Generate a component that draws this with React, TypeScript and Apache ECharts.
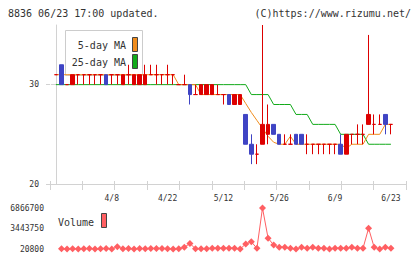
import React, { useEffect, useRef } from "react";
import * as echarts from "echarts";

// Trading days shown on the price chart (index 0 .. 60)
const DATES = [
  "3/25", "3/26", "3/27", "3/28", "3/31", "4/1", "4/2", "4/3", "4/4", "4/7",
  "4/8", "4/9", "4/10", "4/11", "4/14", "4/15", "4/16", "4/17", "4/18", "4/21",
  "4/22", "4/23", "4/24", "4/25", "4/28", "4/30", "5/1", "5/2", "5/7", "5/8",
  "5/12", "5/13", "5/14", "5/15", "5/16", "5/19", "5/20", "5/21", "5/22", "5/23",
  "5/26", "5/27", "5/28", "5/29", "5/30", "6/2", "6/3", "6/4", "6/5", "6/6",
  "6/9", "6/10", "6/11", "6/12", "6/13", "6/16", "6/17", "6/18", "6/19", "6/20",
  "6/23",
];

const OPEN = [
  31, 32, 30, 30, 31, 31, 31, 31, 31, 31,
  31, 31, 30, 31, 30, 30, 30, 31, 31, 31,
  31, 31, 30, 30, 30, 29, 29, 29, 29, 29,
  29, 29, 28, 28, 27, 24, 23, 24, 25, 26,
  25, 24, 24, 25, 25, 24, 24, 24, 24, 24,
  24, 24, 23, 25, 25, 25, 26, 26, 26, 27,
  26,
];
const CLOSE = [
  31, 30, 30, 31, 31, 31, 31, 31, 31, 30,
  31, 31, 31, 31, 31, 31, 31, 31, 31, 31,
  31, 31, 30, 30, 29, 29, 30, 30, 30, 29,
  29, 28, 29, 29, 24, 23, 23, 26, 26, 25,
  24, 24, 24, 24, 24, 24, 24, 24, 24, 24,
  24, 23, 25, 25, 25, 25, 27, 26, 26, 26,
  26,
];
const LOW = [
  31, 30, 30, 30, 30, 30, 30, 30, 30, 30,
  30, 30, 30, 30, 30, 30, 30, 31, 30, 30,
  30, 30, 30, 30, 28, 29, 29, 29, 29, 29,
  28, 28, 28, 28, 24, 22, 22, 24, 24, 25,
  24, 24, 24, 24, 24, 23, 23, 23, 23, 23,
  23, 23, 23, 24, 24, 24, 26, 25, 26, 25,
  25,
];
const HIGH = [
  31, 32, 30, 31, 31, 31, 31, 31, 31, 31,
  31, 31, 31, 32, 31, 31, 32, 32, 32, 31,
  32, 31, 30, 31, 30, 30, 30, 30, 30, 30,
  29, 29, 29, 29, 27, 25, 24, 36, 28, 26,
  25, 25, 25, 25, 25, 25, 24, 24, 24, 24,
  24, 25, 25, 25, 26, 26, 35, 27, 27, 27,
  26,
];

const MA5 = [
  31, 31, 31, 31, 31, 31, 31, 31, 31, 31,
  31, 31, 31, 31, 31, 31, 31, 31, 31, 31,
  31, 31, 30, 30, 30, 30, 29, 29, 29, 29,
  29, 29, 29, 29, 28.1, 27.2, 26.4, 25.6, 24.8, 24.2,
  24, 24, 24.8, 24, 24, 24, 24, 24, 24, 24,
  24, 24, 23.6, 24, 24, 24, 25, 25, 25, 26,
  26,
];
const MA25 = [
  30, 30, 30, 30, 30, 30, 30, 30, 30, 30,
  30, 30, 30, 30, 30, 30, 30, 30, 30, 30,
  30, 30, 30, 30, 30, 30, 30, 30, 30, 30,
  30, 30, 30, 30, 30, 29, 29, 29, 29, 28,
  28, 28, 28, 27, 27, 27, 26, 26, 26, 26,
  26, 25, 25, 25, 25, 25, 24, 24, 24, 24,
  24,
];

// Daily volume (no figure for the first day)
const VOLUME = [
  null, 60000, 30000, 60000, 30000, 60000, 120000, 30000, 60000, 120000,
  30000, 400000, 60000, 120000, 30000, 120000, 60000, 120000, 120000, 120000,
  60000, 30000, 60000, 300000, 940000, 60000, 60000, 60000, 137000, 137000,
  137000, 137000, 137000, 30000, 856000, 1220000, 137000, 6866700, 1830000, 690000,
  300000, 300000, 137000, 20800, 300000, 137000, 300000, 137000, 137000, 30000,
  137000, 137000, 137000, 300000, 137000, 137000, 3480000, 300000, 30000, 300000,
  137000,
];

const PRICE_TICKS = [20, 30];
const VOLUME_TICKS = [20800, 3443750, 6866700];
const DATE_TICKS = [10, 20, 30, 40, 50, 60];

const RED = "#dd0000";
const BLUE = "#3f44c4";
const ORANGE = "#f08c1c";
const GREEN = "#12aa1a";
const VOL = "#ff5f62";
const AXIS = "#d2d2d2";
const TEXT = "#333333";
const MONO = '"DejaVu Sans Mono", monospace';

const X_MIN = -1.057;
const X_MAX = 62.7;

export default function App() {
  const ref = useRef<HTMLDivElement>(null);

  useEffect(() => {
    if (!ref.current) return;
    const chart = echarts.init(ref.current, null, { renderer: "svg" });

    const candles = OPEN.map((o, i) => {
      const c = CLOSE[i];
      const col = c < o ? BLUE : RED;
      return {
        value: [i, o, c, LOW[i], HIGH[i]],
        itemStyle: {
          color: col,
          color0: col,
          borderColor: col,
          borderColor0: col,
          borderColorDoji: col,
        },
      };
    });

    const txt = (text: string, x: number, y: number, size: number, align: string, z = 0) => ({
      type: "text",
      z,
      style: {
        text,
        x,
        y,
        fill: TEXT,
        font: `${size}px ${MONO}`,
        textAlign: align,
        align,
        textVerticalAlign: "middle",
        verticalAlign: "middle",
      },
    });

    chart.setOption({
      animation: false,
      backgroundColor: "#ffffff",
      grid: [
        { left: 50, top: 25, width: 356, height: 159 },
        { left: 50, top: 208, width: 356, height: 41 },
      ],
      xAxis: [
        {
          gridIndex: 0,
          type: "value",
          min: X_MIN,
          max: X_MAX,
          axisLine: { show: false },
          axisTick: { show: false },
          splitLine: { show: false },
          axisLabel: {
            customValues: DATE_TICKS,
            formatter: (v: number) => DATES[v] ?? "",
            fontSize: 8,
            fontFamily: MONO,
            color: TEXT,
            margin: 10,
          },
        },
        {
          gridIndex: 0,
          type: "value",
          position: "bottom",
          min: 0,
          max: 11,
          interval: 1,
          axisLine: { lineStyle: { color: AXIS, width: 1 } },
          axisTick: { length: 6, lineStyle: { color: AXIS } },
          axisLabel: { show: false },
          splitLine: { show: false },
        },
        {
          gridIndex: 0,
          type: "value",
          position: "bottom",
          min: 0,
          max: 11,
          interval: 1,
          axisLine: { show: false },
          axisTick: { inside: true, length: 3, lineStyle: { color: AXIS } },
          axisLabel: { show: false },
          splitLine: { show: false },
        },
        {
          gridIndex: 1,
          type: "value",
          min: X_MIN,
          max: X_MAX,
          show: false,
        },
      ],
      yAxis: [
        {
          gridIndex: 0,
          type: "value",
          min: 20,
          max: 36,
          axisLine: { show: true, lineStyle: { color: AXIS, width: 1 } },
          axisTick: { show: true, customValues: PRICE_TICKS, length: 5, lineStyle: { color: AXIS } },
          axisLabel: {
            customValues: PRICE_TICKS,
            fontSize: 8,
            fontFamily: MONO,
            color: TEXT,
            margin: 11,
          },
          splitLine: { show: false },
        },
        {
          gridIndex: 0,
          type: "value",
          min: 20,
          max: 36,
          axisLine: { show: false },
          axisTick: { show: true, inside: true, customValues: PRICE_TICKS, length: 4, lineStyle: { color: AXIS } },
          axisLabel: { show: false },
          splitLine: { show: false },
        },
        {
          gridIndex: 1,
          type: "value",
          min: 20800,
          max: 6866700,
          axisLine: { show: false },
          axisTick: { show: false },
          splitLine: { show: false },
          axisLabel: {
            customValues: VOLUME_TICKS,
            formatter: (v: number) => String(v),
            fontSize: 8,
            fontFamily: MONO,
            color: TEXT,
            margin: 6,
          },
        },
      ],
      series: [
        {
          name: "25-day MA",
          type: "line",
          xAxisIndex: 0,
          yAxisIndex: 0,
          z: 2,
          data: MA25.map((v, i) => [i, v]),
          showSymbol: false,
          lineStyle: { color: GREEN, width: 1 },
          itemStyle: { color: GREEN },
        },
        {
          name: "5-day MA",
          type: "line",
          xAxisIndex: 0,
          yAxisIndex: 0,
          z: 2,
          data: MA5.map((v, i) => [i, v]),
          showSymbol: false,
          lineStyle: { color: ORANGE, width: 1 },
          itemStyle: { color: ORANGE },
        },
        {
          name: "Price",
          type: "candlestick",
          xAxisIndex: 0,
          yAxisIndex: 0,
          z: 3,
          barWidth: 4,
          encode: { x: 0, y: [1, 2, 3, 4] },
          data: candles,
          itemStyle: { borderWidth: 1 },
        },
        {
          name: "Volume",
          type: "line",
          xAxisIndex: 3,
          yAxisIndex: 2,
          data: VOLUME.map((v, i) => [i, v ?? "-"]),
          symbol: "diamond",
          symbolSize: 7,
          showSymbol: true,
          lineStyle: { color: VOL, width: 1 },
          itemStyle: { color: VOL },
        },
      ],
      graphic: [
        txt("8836 06/23 17:00 updated.", 8, 13, 10, "left"),
        txt("(C)https://www.rizumu.net/", 411, 13, 10, "right"),
        {
          type: "rect",
          z: 0,
          shape: { x: 65.5, y: 30.5, width: 77, height: 45 },
          style: { fill: "#ffffff", stroke: "#cccccc", lineWidth: 1 },
        },
        txt("5-day MA", 126, 45, 10, "right", 1),
        txt("25-day MA", 126, 62, 10, "right", 1),
        {
          type: "rect",
          z: 1,
          shape: { x: 132.5, y: 37.5, width: 5, height: 14 },
          style: { fill: ORANGE, stroke: "#444444", lineWidth: 1 },
        },
        {
          type: "rect",
          z: 1,
          shape: { x: 132.5, y: 54.5, width: 5, height: 14 },
          style: { fill: GREEN, stroke: "#444444", lineWidth: 1 },
        },
        txt("Volume", 58, 222, 10, "left", 1),
        {
          type: "rect",
          z: 1,
          shape: { x: 101.5, y: 213.5, width: 5, height: 14 },
          style: { fill: VOL, stroke: "#444444", lineWidth: 1 },
        },
      ],
    });

    return () => chart.dispose();
  }, []);

  return (
    <div
      ref={ref}
      style={{ position: "fixed", left: 0, top: 0, width: 420, height: 259, background: "#fff" }}
    />
  );
}
